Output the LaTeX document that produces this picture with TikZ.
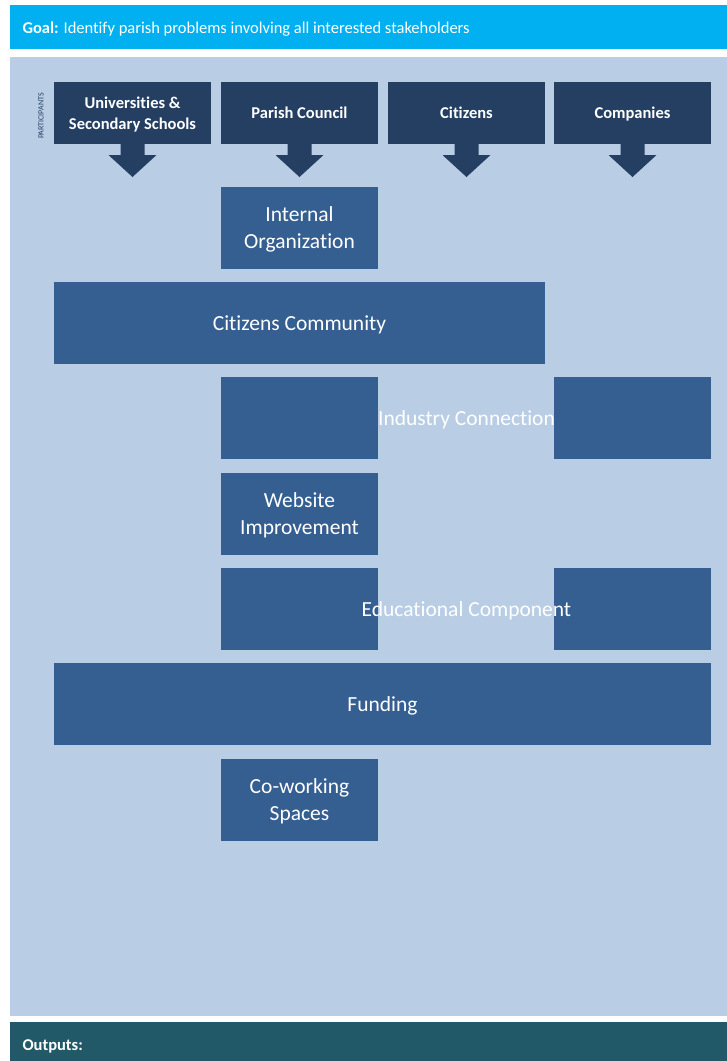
\documentclass[tikz,border=0pt]{standalone}
\usepackage{fontspec}
\setmainfont{Carlito}[Ligatures={NoCommon}]
\usetikzlibrary{positioning}
\definecolor{goalblue}{HTML}{00B0F0}
\definecolor{areablue}{HTML}{B9CDE5}
\definecolor{partnavy}{HTML}{243F61}
\definecolor{itemblue}{HTML}{355E91}
\definecolor{outteal}{HTML}{215968}
\tikzset{
  partbox/.style={fill=partnavy, text=white, font=\fontsize{16.5}{21}\selectfont\bfseries,
    minimum width=157pt, minimum height=62pt, align=center, inner sep=0pt, outer sep=0pt, text depth=0pt},
  itembox/.style={fill=itemblue, text=white, font=\fontsize{21.5}{27}\selectfont,
    minimum width=157pt, minimum height=82pt, align=center, inner sep=0pt, outer sep=0pt, text depth=0pt},
  itemtext/.style={text=white, font=\fontsize{21.5}{27}\selectfont, inner sep=0pt, text depth=0pt},
}
\begin{document}
\begin{tikzpicture}[x=1pt, y=-1pt, line join=round]
	\useasboundingbox (0,0) rectangle (727,1061);
	% bands
	\fill[goalblue] (10,5) rectangle (727,49);
	\fill[areablue] (10,57) rectangle (727,1016);
	\fill[outteal] (10,1022) rectangle (727,1061);
	\node[anchor=west, text=white, font=\fontsize{16.5}{19}\selectfont] (goal) at (19,29.5)
		{\textbf{Goal:} Identify parish problems involving all interested stakeholders};
	\node[anchor=west, text=white, font=\fontsize{16.5}{19}\selectfont\bfseries] (outputs) at (19,1046.5) {Outputs:};
	% participants
	\node[rotate=90, text=partnavy, font=\fontsize{8}{9}\selectfont] (partlbl) at (41,116) {PARTICIPANTS};
	\node[partbox] (univ) at (132.5,113) {Universities \&\\Secondary Schools};
	\node[partbox, right=10pt of univ] (council) {Parish Council};
	\node[partbox, right=10pt of council] (citizens) {Citizens};
	\node[partbox, right=9pt of citizens] (companies) {Companies};
	\foreach \p in {univ,council,citizens,companies}{
		\fill[partnavy] (\p.south) +(-12,0) -- +(12,0) -- +(12,11) -- +(24,11)
			-- +(0,33) -- +(-24,11) -- +(-12,11) -- cycle;}
	% items
	\node[itembox, below=43pt of council] (internal) {Internal\\Organization};
	\node[itembox, minimum width=491pt, below=13pt of internal] (community) {Citizens Community};
	\node[itembox, below=13pt of community] (indleft) {};
	\node[itembox, right=176pt of indleft] (indright) {};
	\node[itemtext] (industry) at (citizens |- indleft) {Industry Connection};
	\node[itembox, below=14pt of indleft] (website) {Website\\Improvement};
	\node[itembox, below=13pt of website] (eduleft) {};
	\node[itembox, right=176pt of eduleft] (eduright) {};
	\node[itemtext] (educational) at (citizens |- eduleft) {Educational Component};
	\node[itembox, minimum width=657pt, anchor=north west, yshift=-13pt] (funding)
		at (univ.west |- eduleft.south) {Funding};
	\node[itembox, anchor=north, yshift=-14pt] (cowork) at (eduleft.south |- funding.south) {Co-working\\Spaces};
\end{tikzpicture}
\end{document}
